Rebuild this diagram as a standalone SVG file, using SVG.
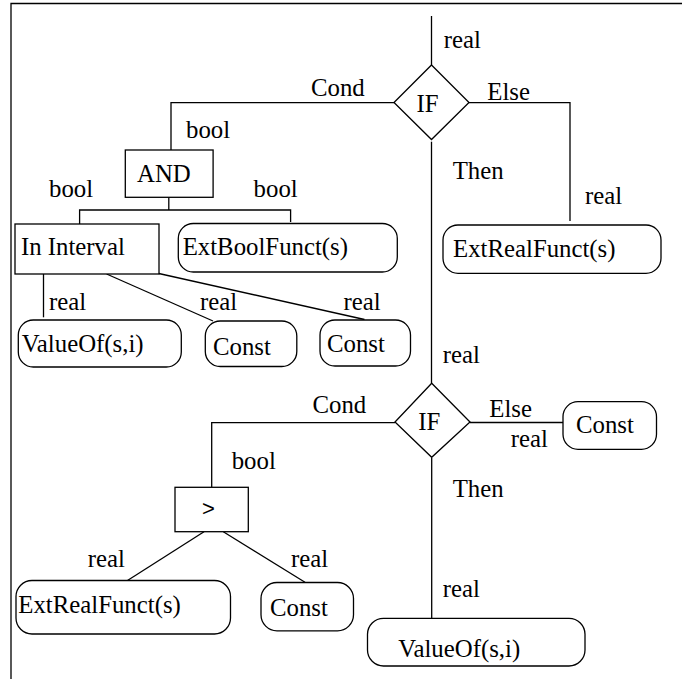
<svg xmlns="http://www.w3.org/2000/svg" width="682" height="679" viewBox="0 0 682 679">
  <style>
    .ln { fill: none; stroke: #000; stroke-width: 1.3; }
    .nd { fill: #fff; stroke: #000; stroke-width: 1.3; }
    .tx { font-family: 'Liberation Serif', 'DejaVu Serif', serif; font-size: 24.8px; fill: #000; }
    .sym { font-family: 'Liberation Sans', Arial, sans-serif; font-size: 22px; fill: #000; }
  </style>
  <rect x="0" y="0" width="682" height="679" fill="#fff"/>
  <!-- frame -->
  <polyline class="ln" points="11,679 11,3.5 682,3.5" stroke-width="1.6"/>

  <g id="connectors">
    <line class="ln" x1="431.5" y1="16" x2="431.5" y2="65"/>
    <polyline class="ln" points="394,102.7 171,102.7 171,150"/>
    <polyline class="ln" points="469,102.7 570,102.7 570,221"/>
    <line class="ln" x1="431.5" y1="141.7" x2="431.5" y2="383.3"/>
    <line class="ln" x1="168.8" y1="197.3" x2="168.8" y2="210"/>
    <polyline class="ln" points="79.6,224 79.6,210 290.6,210 290.6,222"/>
    <line class="ln" x1="43.5" y1="274" x2="43.5" y2="317.3"/>
    <line class="ln" x1="106.6" y1="274" x2="213" y2="321"/>
    <line class="ln" x1="158.8" y1="273.5" x2="364.5" y2="319.5"/>
    <polyline class="ln" points="395,422.7 211.7,422.7 211.7,487.3"/>
    <line class="ln" x1="470" y1="422.5" x2="563" y2="422.5"/>
    <line class="ln" x1="431.7" y1="458" x2="431.7" y2="618.3"/>
    <line class="ln" x1="204" y1="531.7" x2="126.7" y2="581"/>
    <line class="ln" x1="223.3" y1="531.7" x2="305" y2="582.3"/>
  </g>

  <g id="labels">
    <text class="tx" x="443.7" y="48">real</text>
    <text class="tx" x="311" y="96">Cond</text>
    <text class="tx" x="487.3" y="100">Else</text>
    <text class="tx" x="452.7" y="179.3">Then</text>
    <text class="tx" x="585" y="204.3">real</text>
    <text class="tx" x="186" y="138.3">bool</text>
    <text class="tx" x="49" y="197">bool</text>
    <text class="tx" x="253.6" y="197">bool</text>
    <text class="tx" x="49" y="310">real</text>
    <text class="tx" x="200" y="310">real</text>
    <text class="tx" x="343.6" y="310">real</text>
    <text class="tx" x="442.8" y="363.3">real</text>
    <text class="tx" x="312.5" y="412.7">Cond</text>
    <text class="tx" x="489.3" y="416.7">Else</text>
    <text class="tx" x="510.7" y="446.7">real</text>
    <text class="tx" x="231.7" y="469.3">bool</text>
    <text class="tx" x="452.7" y="496.7">Then</text>
    <text class="tx" x="87.7" y="567.3">real</text>
    <text class="tx" x="291" y="567.3">real</text>
    <text class="tx" x="442.8" y="597.3">real</text>
  </g>

  <g id="if-top">
    <polygon class="nd" points="431.5,65 469,102.5 431.5,139.5 394,102.5"/>
    <text class="tx" x="416.5" y="111.7">IF</text>
  </g>
  <g id="and">
    <rect class="nd" x="125.3" y="150" width="87.8" height="47.3"/>
    <text class="tx" x="137" y="181.7">AND</text>
  </g>
  <g id="in-interval">
    <rect class="nd" x="15" y="224" width="144" height="50"/>
    <text class="tx" x="20.9" y="255">In Interval</text>
  </g>
  <g id="ext-bool-funct">
    <rect class="nd" x="178.3" y="223.5" width="219" height="48.5" rx="15" ry="15"/>
    <text class="tx" x="182.7" y="255">ExtBoolFunct(s)</text>
  </g>
  <g id="ext-real-funct-top">
    <rect class="nd" x="443" y="225" width="218" height="48.3" rx="15" ry="15"/>
    <text class="tx" x="453" y="256.7">ExtRealFunct(s)</text>
  </g>
  <g id="value-of-top">
    <rect class="nd" x="18.3" y="320" width="163" height="47" rx="15" ry="15"/>
    <text class="tx" x="21.7" y="351.7">ValueOf(s,i)</text>
  </g>
  <g id="const-1">
    <rect class="nd" x="205.3" y="321" width="91.5" height="45.5" rx="15" ry="15"/>
    <text class="tx" x="213" y="355">Const</text>
  </g>
  <g id="const-2">
    <rect class="nd" x="320" y="320" width="90.5" height="46" rx="15" ry="15"/>
    <text class="tx" x="327" y="351.7">Const</text>
  </g>
  <g id="if-bottom">
    <polygon class="nd" points="431.7,383.3 470,422 431.7,457.3 395,422"/>
    <text class="tx" x="418.3" y="430">IF</text>
  </g>
  <g id="const-else">
    <rect class="nd" x="563" y="401.7" width="93.5" height="47.6" rx="15" ry="15"/>
    <text class="tx" x="576" y="432.7">Const</text>
  </g>
  <g id="greater">
    <rect class="nd" x="175" y="487.3" width="73.3" height="44.4"/>
    <text class="sym" x="208.5" y="516" text-anchor="middle">&gt;</text>
  </g>
  <g id="ext-real-funct-bottom">
    <rect class="nd" x="16" y="580.5" width="214.5" height="53.5" rx="16" ry="16"/>
    <text class="tx" x="18.3" y="613.3">ExtRealFunct(s)</text>
  </g>
  <g id="const-bottom">
    <rect class="nd" x="261" y="582.5" width="92.5" height="48.3" rx="16" ry="16"/>
    <text class="tx" x="270" y="616">Const</text>
  </g>
  <g id="value-of-bottom">
    <rect class="nd" x="367.5" y="618.3" width="217.5" height="47.7" rx="16" ry="16"/>
    <text class="tx" x="398.3" y="656.7">ValueOf(s,i)</text>
  </g>
</svg>
